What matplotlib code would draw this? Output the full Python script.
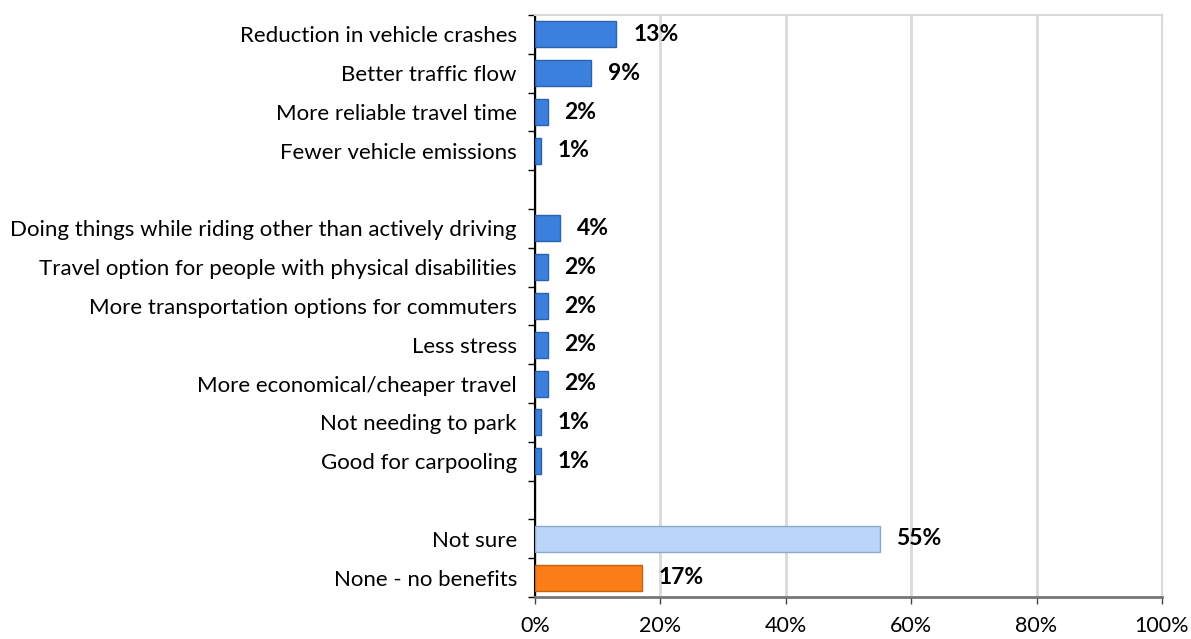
import matplotlib
matplotlib.use("Agg")
import matplotlib.pyplot as plt
import numpy as np

categories = [
    "Reduction in vehicle crashes",
    "Better traffic flow",
    "More reliable travel time",
    "Fewer vehicle emissions",
    "",
    "Doing things while riding other than actively driving",
    "Travel option for people with physical disabilities",
    "More transportation options for commuters",
    "Less stress",
    "More economical/cheaper travel",
    "Not needing to park",
    "Good for carpooling",
    "",
    "Not sure",
    "None - no benefits",
]
values = [13, 9, 2, 1, None, 4, 2, 2, 2, 2, 1, 1, None, 55, 17]
bar_colors = ["#3b80dd"] * 12 + [None, "#b9d5f7", "#fa7d17"]
edge_colors = ["#2a62b0"] * 12 + [None, "#8fa9c9", "#c9600f"]
x_ticks = [0, 20, 40, 60, 80, 100]
x_tick_labels = ["0%", "20%", "40%", "60%", "80%", "100%"]

plt.rcParams['font.family'] = ['Lato', 'DejaVu Sans']

fig = plt.figure(figsize=(11.91, 6.39), dpi=100)
ax = fig.add_axes([0.4492, 0.0657, 0.5264, 0.9108])

n = len(categories)
y = np.arange(n)
for i, v in enumerate(values):
    if v is None:
        continue
    ax.barh(y[i], v, height=0.67, color=bar_colors[i], edgecolor=edge_colors[i],
            linewidth=1.0, zorder=3)
    ax.annotate(f"{v}%", xy=(v, y[i]), xytext=(12, 0), textcoords="offset points",
                ha="left", va="center", fontsize=16.5, fontweight="bold", color="black")

ax.set_xlim(0, 100)
ax.set_ylim(n - 0.5, -0.5)
ax.set_xticks(x_ticks)
ax.set_xticklabels(x_tick_labels, fontsize=15.5)
ax.set_yticks(y)
ax.set_yticklabels(categories, fontsize=16)
ax.tick_params(axis='y', length=0, pad=13)
ax.set_yticks(np.arange(-0.5, n, 1), minor=True)
ax.tick_params(axis='y', which='minor', length=5, width=1, color='black', direction='out')
ax.tick_params(axis='x', length=5, width=1, color='#444444', pad=9)

ax.grid(axis='x', color='#d9d9d9', linewidth=2, zorder=0)
ax.set_axisbelow(True)
for s in ['top', 'right']:
    ax.spines[s].set_color('#d9d9d9')
    ax.spines[s].set_linewidth(1.5)
ax.spines['left'].set_color('black')
ax.spines['left'].set_linewidth(1.5)
ax.spines['bottom'].set_color('#777777')
ax.spines['bottom'].set_linewidth(2)

fig.savefig("out.png", dpi=100)
